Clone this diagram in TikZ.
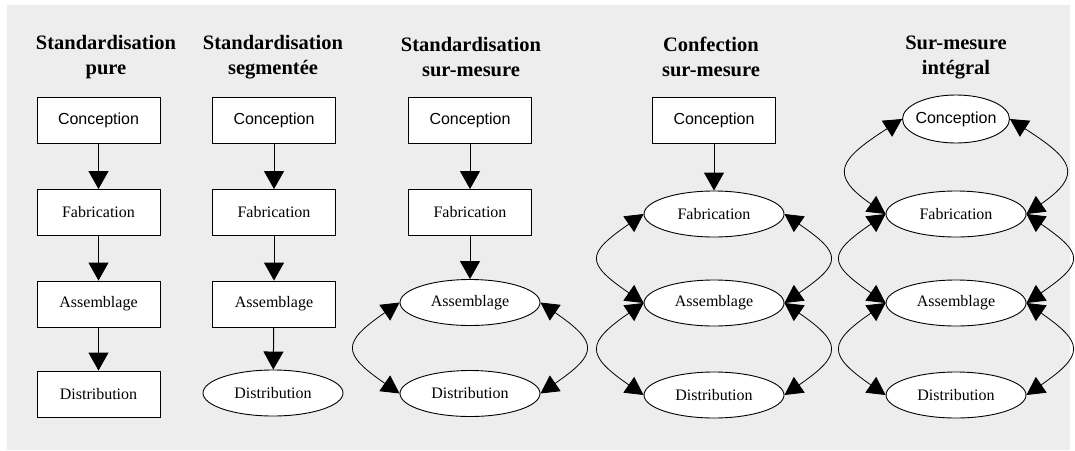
\documentclass[tikz,border=0pt]{standalone}
\usepackage{fontspec}
\setmainfont{Liberation Serif}
\newfontfamily\helv{Liberation Sans}
\usepackage{xcolor}
\usetikzlibrary{arrows.meta,shapes.geometric}
\definecolor{panel_gray}{RGB}{237,237,237}

\begin{document}
\begin{tikzpicture}[x=1pt, y=-1pt,
    stagebox/.style={draw, fill=white, line width=0.9pt, minimum width=123pt,
      minimum height=46pt, inner sep=0pt, font=\fontsize{16}{19}\selectfont},
    stageoval/.style={ellipse, draw, fill=white, line width=0.9pt, minimum width=140pt,
      minimum height=46pt, inner sep=0pt, font=\fontsize{16}{19}\selectfont},
    coltitle/.style={align=center, font=\fontsize{20.5}{25}\selectfont\bfseries},
    flow/.style={-{Triangle[length=18pt,width=20pt]}, line width=1pt},
    swing/.style={{Triangle[length=18pt,width=19pt]}-{Triangle[length=18pt,width=19pt]},
      line width=0.8pt}]
  \useasboundingbox (0,0) rectangle (1075,450);
  \fill[panel_gray] (7,5) rectangle (1070,450);

  % Column titles
  \node[coltitle] (t1) at (106,57) {Standardisation\\pure};
  \node[coltitle] (t2) at (273,57) {Standardisation\\segment\'ee};
  \node[coltitle] (t3) at (471,57) {Standardisation\\sur-mesure};
  \node[coltitle] (t4) at (711,57) {Confection\\sur-mesure};
  \node[coltitle] (t5) at (956,57) {Sur-mesure\\int\'egral};

  % Standardisation pure
  \node[stagebox] (c1con) at (98.5,120) {\helv Conception};
  \node[stagebox] (c1fab) at (98.5,212.5) {Fabrication};
  \node[stagebox] (c1asm) at (98.5,304) {Assemblage};
  \node[stagebox] (c1dis) at (98.5,394) {Distribution};
  \draw[flow] (c1con) -- (c1fab);
  \draw[flow] (c1fab) -- (c1asm);
  \draw[flow] (c1asm) -- (c1dis);

  % Standardisation segmentee
  \node[stagebox] (c2con) at (274,120) {\helv Conception};
  \node[stagebox] (c2fab) at (274,212.5) {Fabrication};
  \node[stagebox] (c2asm) at (274,304) {Assemblage};
  \node[stageoval] (c2dis) at (273,393) {Distribution};
  \draw[flow] (c2con) -- (c2fab);
  \draw[flow] (c2fab) -- (c2asm);
  \draw[flow] (c2asm) -- (c2dis);

  % Standardisation sur-mesure
  \node[stagebox] (c3con) at (470,120) {\helv Conception};
  \node[stagebox] (c3fab) at (470,212.5) {Fabrication};
  \node[stageoval] (c3asm) at (470,302.5) {Assemblage};
  \node[stageoval] (c3dis) at (470,393.5) {Distribution};
  \draw[flow] (c3con) -- (c3fab);
  \draw[flow] (c3fab) -- (c3asm);
  \draw[swing] (c3asm.west) .. controls +(-58,40) and +(-58,-40) .. (c3dis.west);
  \draw[swing] (c3asm.east) .. controls +(58,40) and +(58,-40) .. (c3dis.east);

  % Confection sur-mesure
  \node[stagebox] (c4con) at (714,120) {\helv Conception};
  \node[stageoval] (c4fab) at (714,214) {Fabrication};
  \node[stageoval] (c4asm) at (714,303) {Assemblage};
  \node[stageoval] (c4dis) at (714,395) {Distribution};
  \draw[flow] (c4con) -- (c4fab);
  \draw[swing] (c4fab.west) .. controls +(-58,40) and +(-58,-40) .. (c4asm.west);
  \draw[swing] (c4fab.east) .. controls +(58,40) and +(58,-40) .. (c4asm.east);
  \draw[swing] (c4asm.west) .. controls +(-58,40) and +(-58,-40) .. (c4dis.west);
  \draw[swing] (c4asm.east) .. controls +(58,40) and +(58,-40) .. (c4dis.east);

  % Sur-mesure integral
  \node[stageoval, minimum width=107pt, minimum height=48pt, inner xsep=-3pt]
    (c5con) at (956,119) {\helv Conception};
  \node[stageoval] (c5fab) at (956,214) {Fabrication};
  \node[stageoval] (c5asm) at (956,303) {Assemblage};
  \node[stageoval] (c5dis) at (956,395) {Distribution};
  \draw[swing] (c5con.west) .. controls +(-62,40) and +(-58,-40) .. (c5fab.west);
  \draw[swing] (c5con.east) .. controls +(62,40) and +(58,-40) .. (c5fab.east);
  \draw[swing] (c5fab.west) .. controls +(-58,40) and +(-58,-40) .. (c5asm.west);
  \draw[swing] (c5fab.east) .. controls +(58,40) and +(58,-40) .. (c5asm.east);
  \draw[swing] (c5asm.west) .. controls +(-58,40) and +(-58,-40) .. (c5dis.west);
  \draw[swing] (c5asm.east) .. controls +(58,40) and +(58,-40) .. (c5dis.east);
\end{tikzpicture}
\end{document}
